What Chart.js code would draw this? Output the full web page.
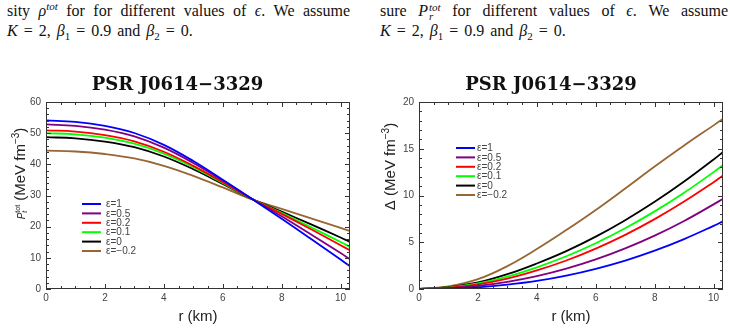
<!DOCTYPE html>
<html>
<head>
<meta charset="utf-8">
<script src="https://cdn.jsdelivr.net/npm/chart.js@4.4.1/dist/chart.umd.min.js"></script>
<style>
  body { margin: 0; background: #fff; width: 730px; height: 331px; overflow: hidden; position: relative; }
  .txt { position: absolute; font: 16px "Liberation Serif", "DejaVu Serif", serif; line-height: 20px; color: #111; white-space: nowrap; }
  .just { text-align: justify; text-align-last: justify; white-space: normal; }
  .txt sup, .txt sub { font-size: 11px; line-height: 0; }
  .stk { display: inline-block; vertical-align: -4px; line-height: 9px; font-size: 11px; font-style: italic; margin-left: 1px; }
  .eq { word-spacing: 2px; }
  canvas { position: absolute; top: 60px; }
</style>
</head>
<body>
<div class="txt just" style="left:7px; top:1px; width:343px;">sity <i>ρ</i><sup><i>tot</i></sup> for for different values of <i>ϵ</i>. We assume</div>
<div class="txt eq" style="left:7px; top:21px;"><i>K</i> = 2, <i>β</i><sub>1</sub> = 0.9 and <i>β</i><sub>2</sub> = 0.</div>
<div class="txt just" style="left:380px; top:1px; width:348px;">sure <i>P</i><span class="stk">tot<br>r</span> for different values of <i>ϵ</i>. We assume</div>
<div class="txt eq" style="left:380px; top:21px;"><i>K</i> = 2, <i>β</i><sub>1</sub> = 0.9 and <i>β</i><sub>2</sub> = 0.</div>

<canvas id="ptChart" width="365" height="271" style="left:0px"></canvas>
<canvas id="deltaChart" width="365" height="271" style="left:365px"></canvas>

<script>
const radiusKm = [0, 1, 2, 3, 4, 5, 6, 7, 8, 9, 10, 10.3];
const epsLabels = ["ε=1", "ε=0.5", "ε=0.2", "ε=0.1", "ε=0", "ε=−0.2"];

// tangential pressure P_t^tot (MeV fm^-3)
const ptEps1   = [54.1, 53.65, 52.35, 50.05, 46.25, 41.05, 35.05, 28.85, 22.55, 16.05, 9.45, 7.45];
const ptEps05  = [52.8, 52.37, 51.14, 48.97, 45.37, 40.45, 34.78, 28.91, 23.33, 17.48, 11.53, 9.7];
const ptEps02  = [50.9, 50.51, 49.37, 47.37, 44.05, 39.52, 34.29, 28.88, 24.1, 19.15, 14.05, 12.5];
const ptEps01  = [50.0, 49.62, 48.54, 46.61, 43.43, 39.08, 34.05, 28.87, 24.42, 19.82, 15.07, 13.6];
const ptEps0   = [48.7, 48.35, 47.32, 45.51, 42.52, 38.43, 33.71, 28.83, 24.83, 20.73, 16.53, 15.2];
const ptEpsM02 = [44.4, 44.12, 43.31, 41.89, 39.53, 36.31, 32.59, 28.74, 25.68, 22.63, 19.58, 18.65];

// anisotropy Delta (MeV fm^-3)
const deltaEps1   = [0, 0.04, 0.18, 0.46, 0.86, 1.43, 2.16, 3.04, 4.1, 5.34, 6.75, 7.2];
const deltaEps05  = [0, 0.08, 0.33, 0.76, 1.37, 2.17, 3.16, 4.34, 5.71, 7.28, 9.05, 9.6];
const deltaEps02  = [0, 0.14, 0.5, 1.12, 1.99, 3.05, 4.32, 5.79, 7.47, 9.35, 11.42, 12.1];
const deltaEps01  = [0, 0.16, 0.6, 1.33, 2.32, 3.5, 4.89, 6.49, 8.3, 10.3, 12.5, 13.2];
const deltaEps0   = [0, 0.2, 0.7, 1.58, 2.73, 4.05, 5.6, 7.36, 9.32, 11.49, 13.85, 14.6];
const deltaEpsM02 = [0, 0.28, 1.05, 2.45, 4.27, 6.3, 8.45, 10.75, 13.1, 15.35, 17.5, 18.15];

// axis tick labels
const rTicks = [0, 2, 4, 6, 8, 10];
const ptTicks = [0, 10, 20, 30, 40, 50, 60];
const deltaTicks = [0, 5, 10, 15, 20];

const lineColors = ["#0000ff", "#800080", "#ff0000", "#00ff00", "#000000", "#996633"];
const SANS = "'Liberation Sans', Arial, sans-serif";

// Mathematica-style frame with inward major/minor ticks on all sides
const framePlugin = {
  id: "framePlugin",
  afterDatasetsDraw(c, args, opts) {
    const { ctx, chartArea: a, scales } = c;
    const x = scales.x, y = scales.y;
    ctx.save();
    ctx.strokeStyle = "#333";
    ctx.lineWidth = 1;
    ctx.strokeRect(a.left + 0.5, a.top + 0.5, a.right - a.left - 1, a.bottom - a.top - 1);
    ctx.beginPath();
    const isMajor = (v, step) => Math.abs(v / step - Math.round(v / step)) < 1e-6;
    for (let v = 0; v <= x.max + 1e-9; v += opts.xMinor) {
      const px = Math.round(x.getPixelForValue(v)) + 0.5;
      const len = isMajor(v, opts.xMajor) ? 5 : 3;
      ctx.moveTo(px, a.bottom); ctx.lineTo(px, a.bottom - len);
      ctx.moveTo(px, a.top); ctx.lineTo(px, a.top + len);
    }
    for (let v = 0; v <= y.max + 1e-9; v += opts.yMinor) {
      const py = Math.round(y.getPixelForValue(v)) + 0.5;
      const len = isMajor(v, opts.yMajor) ? 5 : 3;
      ctx.moveTo(a.left, py); ctx.lineTo(a.left + len, py);
      ctx.moveTo(a.right, py); ctx.lineTo(a.right - len, py);
    }
    ctx.stroke();
    ctx.restore();
  }
};

// legend inside plot area
const insideLegend = {
  id: "insideLegend",
  afterDraw(c, args, opts) {
    const { ctx } = c;
    ctx.save();
    ctx.font = "10px " + SANS;
    ctx.textBaseline = "middle";
    c.data.datasets.forEach((ds, i) => {
      const yy = opts.y + i * opts.step;
      ctx.strokeStyle = ds.borderColor;
      ctx.lineWidth = 2;
      ctx.beginPath();
      ctx.moveTo(opts.x, yy);
      ctx.lineTo(opts.x + opts.len, yy);
      ctx.stroke();
      ctx.fillStyle = "#444";
      ctx.fillText(ds.label, opts.textX, yy + 0.5);
    });
    ctx.restore();
  }
};

// rotated y-axis title with sub/superscripts
const yTitlePlugin = {
  id: "yTitlePlugin",
  afterDraw(c, args, opts) {
    const { ctx } = c;
    ctx.save();
    ctx.translate(opts.x, opts.y);
    ctx.rotate(-Math.PI / 2);
    ctx.fillStyle = "#222";
    ctx.textBaseline = "alphabetic";
    let total = 0, prevStart = 0;
    const laid = opts.parts.map(p => {
      ctx.font = p.font;
      const w = ctx.measureText(p.t).width;
      let start;
      if (p.same) { start = prevStart; total = Math.max(total, start + w); }
      else { start = total; total += w; }
      prevStart = start;
      return { ...p, start };
    });
    const x0 = -total / 2;
    laid.forEach(p => {
      ctx.font = p.font;
      ctx.fillText(p.t, x0 + p.start, opts.base + (p.dy || 0));
    });
    ctx.restore();
  }
};

function toPoints(values) {
  return radiusKm.map((r, i) => ({ x: r, y: values[i] }));
}

function makeDatasets(seriesList) {
  return seriesList.map((vals, i) => ({
    label: epsLabels[i],
    data: toPoints(vals),
    borderColor: lineColors[i],
    backgroundColor: lineColors[i],
    borderWidth: 1.8,
    pointRadius: 0,
    fill: false,
    tension: 0.4
  }));
}

function buildChart(canvasId, cfg) {
  return new Chart(document.getElementById(canvasId), {
    type: "line",
    data: { datasets: makeDatasets(cfg.series) },
    options: {
      responsive: false,
      animation: false,
      devicePixelRatio: 1,
      layout: { padding: { left: cfg.padLeft, right: cfg.padRight, top: 0, bottom: 0 } },
      plugins: {
        legend: { display: false },
        tooltip: { enabled: false },
        title: {
          display: true,
          text: "PSR J0614−3329",
          color: "#111",
          font: { family: "'DejaVu Serif', serif", size: 18, weight: "bold" },
          padding: { top: 15, bottom: 5.4 }
        },
        framePlugin: { xMajor: 2, xMinor: 0.5, yMajor: cfg.yMajor, yMinor: cfg.yMinor },
        insideLegend: cfg.legend,
        yTitlePlugin: cfg.yTitle
      },
      scales: {
        x: {
          type: "linear",
          min: 0,
          max: 10.32,
          afterBuildTicks: s => { s.ticks = rTicks.map(v => ({ value: v })); },
          afterFit: s => { s.height = 42; },
          grid: { display: false, drawTicks: false },
          border: { display: false },
          ticks: { color: "#444", font: { family: SANS, size: 10 }, padding: 3, maxRotation: 0, autoSkip: false },
          title: { display: true, text: "r (km)", color: "#222", font: { family: SANS, size: 15 }, padding: { top: 0, bottom: 5 } }
        },
        y: {
          type: "linear",
          min: 0,
          max: cfg.yMax,
          afterBuildTicks: s => { s.ticks = cfg.yTicks.map(v => ({ value: v })); },
          afterFit: s => { s.width = cfg.yWidth; },
          grid: { display: false, drawTicks: false },
          border: { display: false },
          ticks: { color: "#444", font: { family: SANS, size: 10 }, padding: 5, autoSkip: false }
        }
      }
    },
    plugins: [framePlugin, insideLegend, yTitlePlugin]
  });
}

buildChart("ptChart", {
  series: [ptEps1, ptEps05, ptEps02, ptEps01, ptEps0, ptEpsM02],
  yMax: 60, yTicks: ptTicks, yMajor: 10, yMinor: 2,
  padLeft: 5, padRight: 15, yWidth: 41,
  legend: { x: 82, y: 144, step: 9.4, len: 19, textX: 106 },
  yTitle: {
    x: 20, y: 113.5, base: 5,
    parts: [
      { t: "P", font: "italic 10px " + SANS },
      { t: "t", font: "italic 7px " + SANS, dy: 2 },
      { t: "tot", font: "7px " + SANS, dy: -5, same: true },
      { t: " (MeV fm", font: "15px " + SANS },
      { t: "−3", font: "10px " + SANS, dy: -6 },
      { t: ")", font: "15px " + SANS }
    ]
  }
});

buildChart("deltaChart", {
  series: [deltaEps1, deltaEps05, deltaEps02, deltaEps01, deltaEps0, deltaEpsM02],
  yMax: 20, yTicks: deltaTicks, yMajor: 5, yMinor: 1,
  padLeft: 14, padRight: 7, yWidth: 40,
  legend: { x: 91, y: 88, step: 9.4, len: 19, textX: 112 },
  yTitle: {
    x: 25, y: 106.5, base: 5,
    parts: [
      { t: "Δ (MeV fm", font: "15px " + SANS },
      { t: "−3", font: "10px " + SANS, dy: -6 },
      { t: ")", font: "15px " + SANS }
    ]
  }
});
</script>
</body>
</html>
